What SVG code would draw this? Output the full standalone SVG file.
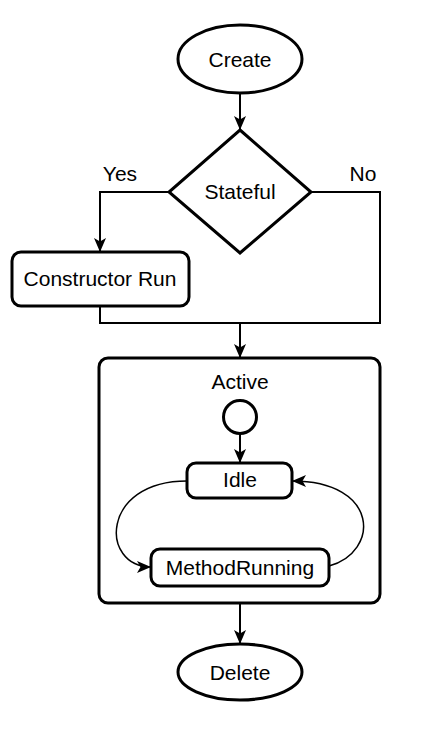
<svg xmlns="http://www.w3.org/2000/svg" width="440" height="736" viewBox="0 0 440 736">
<style>
.s{fill:#fff;stroke:#000;stroke-width:3}
.t{font-family:"Liberation Sans",Arial,sans-serif;font-size:21px;fill:#000;text-anchor:middle}
.c{fill:none;stroke:#000;stroke-width:2}
.cv{fill:none;stroke:#000;stroke-width:1.5}
</style>
<defs>
<marker id="a" markerUnits="userSpaceOnUse" markerWidth="16" markerHeight="16" viewBox="0 0 16 16" refX="15" refY="8" orient="auto">
<path d="M1,2 L15,8 L1,14 L4.5,8 z" fill="#000"/>
</marker>
</defs>
<rect width="440" height="736" fill="#fff"/>
<g id="create">
<ellipse class="s" cx="240" cy="59" rx="62" ry="34"/>
<text class="t" x="240" y="67">Create</text>
</g>
<g id="stateful">
<path class="s" d="M240,130 L311,192 L240,253 L169,192 Z"/>
<text class="t" x="240" y="199">Stateful</text>
</g>
<g id="constructor">
<rect class="s" x="12" y="252" width="177" height="54" rx="9"/>
<text class="t" x="100" y="286">Constructor Run</text>
</g>
<g id="active">
<rect class="s" x="99" y="358" width="281" height="245" rx="9"/>
<text class="t" x="240" y="389">Active</text>
</g>
<g id="initial">
<circle class="s" cx="240" cy="417" r="16.5"/>
</g>
<g id="idle">
<rect class="s" x="187" y="463" width="105" height="35" rx="9"/>
<text class="t" x="240" y="487">Idle</text>
</g>
<g id="methodrunning">
<rect class="s" x="151" y="549" width="178" height="37" rx="9"/>
<text class="t" x="240" y="575">MethodRunning</text>
</g>
<g id="delete">
<ellipse class="s" cx="240" cy="672" rx="62" ry="28"/>
<text class="t" x="240" y="680">Delete</text>
</g>
<g id="connectors">
<path class="c" d="M240,93 V130" marker-end="url(#a)"/>
<path class="c" d="M169,192 H100 V252" marker-end="url(#a)"/>
<path class="c" d="M100,306 V323 H380 V192 H311"/>
<path class="c" d="M240,323 V358" marker-end="url(#a)"/>
<path class="c" d="M240,434 V463" marker-end="url(#a)"/>
<path class="cv" d="M187,481 C100,481 100,567 151,567" marker-end="url(#a)"/>
<path class="cv" d="M329,566 C380,552 380,481 292,481" marker-end="url(#a)"/>
<path class="c" d="M240,603 V644" marker-end="url(#a)"/>
<text class="t" x="120" y="181">Yes</text>
<text class="t" x="363" y="181">No</text>
</g>
</svg>
